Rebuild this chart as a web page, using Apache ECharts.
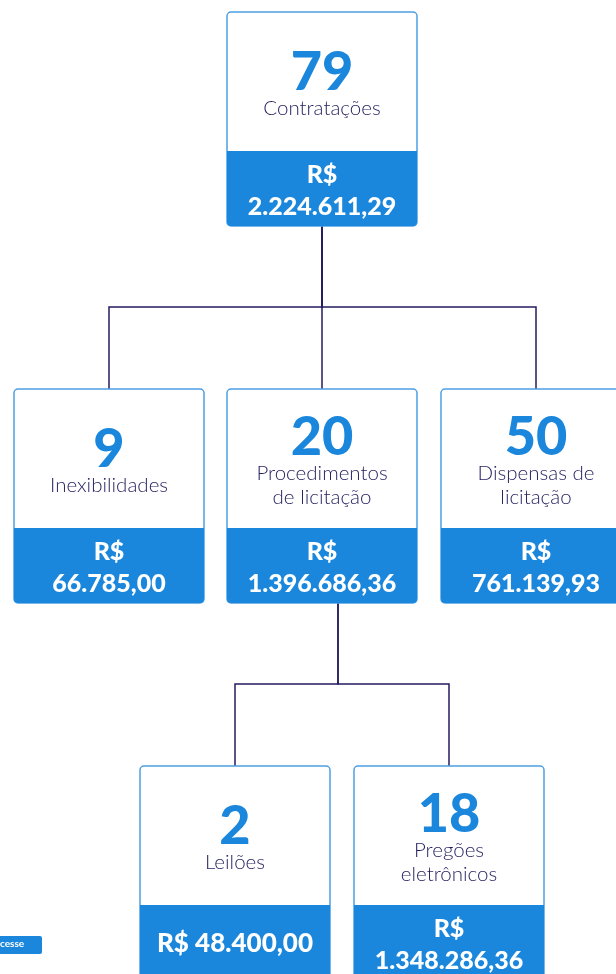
<!DOCTYPE html>
<html>
<head>
<meta charset="utf-8">
<script src="https://cdn.jsdelivr.net/npm/echarts@6/dist/echarts.min.js"></script>
<style>
  html, body { margin: 0; padding: 0; background: #fff; }
  #chart { width: 616px; height: 974px; }
</style>
</head>
<body>
<div id="chart"></div>
<script>
// dados do organograma
var counts = [79, 9, 20, 50, 2, 18];
var labels = ['Contratações', 'Inexibilidades', 'Procedimentos\nde licitação', 'Dispensas de\nlicitação', 'Leilões', 'Pregões\neletrônicos'];
var amounts = [2224611.29, 66785.00, 1396686.36, 761139.93, 48400.00, 1348286.36];
var parents = [null, 0, 0, 0, 2, 2];

// layout (centro x, topo y) em px
var nodeX = [322, 109, 322, 536, 235, 449];
var nodeY = [12, 389, 389, 389, 766, 766];
var stemX = {0: 322, 2: 338};
var busY = {0: 307, 2: 684};
var oneLine = [false, false, false, false, true, false];

var BOX_W = 190, TOP_H = 139, BOT_H = 75;
var BLUE = '#1b87dc', NAVY = '#231d5e', BORDER = '#4d9fe4';

function brl(v) {
  var parts = v.toFixed(2).split('.');
  var int = parts[0].replace(/\B(?=(\d{3})+(?!\d))/g, '.');
  return int + ',' + parts[1];
}

var nodeData = counts.map(function (c, i) {
  return [nodeX[i], nodeY[i], i];
});

var edges = [];
parents.forEach(function (p, i) {
  if (p === null) return;
  var sx = stemX[p], by = busY[p];
  edges.push({
    coords: [[sx, nodeY[p] + TOP_H + BOT_H], [sx, by], [nodeX[i], by], [nodeX[i], nodeY[i]]]
  });
});

function renderNode(params, api) {
  var i = api.value(2);
  var pt = api.coord([api.value(0), api.value(1)]);
  var left = pt[0] - BOX_W / 2, top = pt[1];
  var cx = pt[0];
  var twoLines = labels[i].indexOf('\n') >= 0;
  var numY = top + (twoLines ? 49 : 61);
  var labY = top + 96;
  var money = oneLine[i] ? ['R$ ' + brl(amounts[i])] : ['R$', brl(amounts[i])];
  var moneyFont = '900 25px Lato, Roboto, sans-serif';
  var children = [
    { type: 'rect', shape: { x: left, y: top, width: BOX_W, height: TOP_H + BOT_H, r: 4 },
      style: { fill: '#fff', stroke: BORDER, lineWidth: 1.5 } },
    { type: 'rect', shape: { x: left, y: top + TOP_H, width: BOX_W, height: BOT_H, r: [0, 0, 4, 4] },
      style: { fill: BLUE } },
    { type: 'text', style: { text: String(counts[i]), x: cx, y: numY, align: 'center', verticalAlign: 'middle',
      fill: BLUE, font: '900 54px Lato, Roboto, sans-serif' } },
    { type: 'text', style: { text: labels[i], x: cx, y: labY, align: 'center', verticalAlign: 'middle',
      fill: NAVY, font: '300 20.5px Lato, Roboto, sans-serif', lineHeight: 24 } }
  ];
  if (money.length === 1) {
    children.push({ type: 'text', style: { text: money[0], x: cx, y: top + TOP_H + 39, align: 'center', verticalAlign: 'middle',
      fill: '#fff', font: '900 26px Lato, Roboto, sans-serif' } });
  } else {
    children.push({ type: 'text', style: { text: money[0], x: cx, y: top + TOP_H + 24, align: 'center', verticalAlign: 'middle',
      fill: '#fff', font: moneyFont } });
    children.push({ type: 'text', style: { text: money[1], x: cx, y: top + TOP_H + 56, align: 'center', verticalAlign: 'middle',
      fill: '#fff', font: moneyFont } });
  }
  return { type: 'group', children: children };
}

var chart = echarts.init(document.getElementById('chart'));
var option = {
  backgroundColor: '#fff',
  animation: false,
  grid: { left: 0, right: 0, top: 0, bottom: 0 },
  xAxis: { type: 'value', min: 0, max: 616, show: false },
  yAxis: { type: 'value', min: 0, max: 974, inverse: true, show: false },
  graphic: [
    { type: 'rect', left: -10, top: 936, shape: { width: 52, height: 18, r: 2 }, style: { fill: BLUE } },
    { type: 'text', left: 0, top: 939, style: { text: 'cesse', fill: '#fff', font: 'bold 10px Lato, sans-serif' } }
  ],
  series: [
    {
      type: 'lines',
      coordinateSystem: 'cartesian2d',
      polyline: true,
      silent: true,
      lineStyle: { color: NAVY, width: 1.5, opacity: 1 },
      data: edges,
      z: 1
    },
    {
      type: 'custom',
      clip: false,
      renderItem: renderNode,
      data: nodeData,
      z: 2
    }
  ]
};
chart.setOption(option);
</script>
</body>
</html>
